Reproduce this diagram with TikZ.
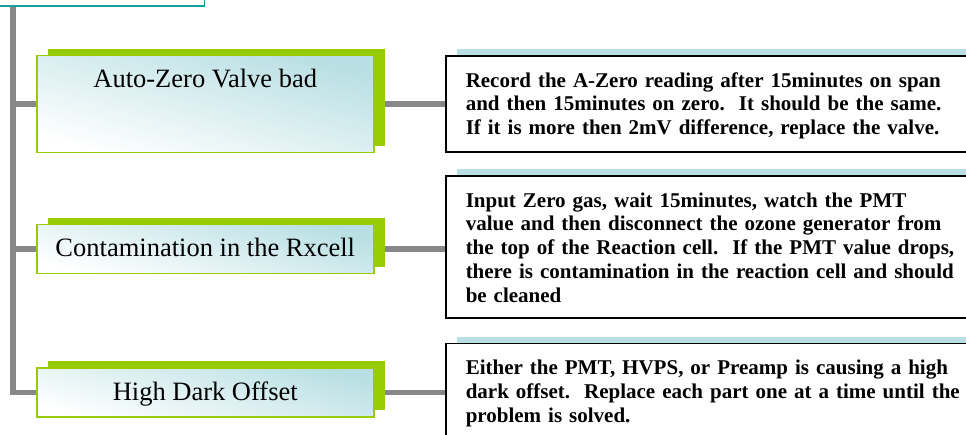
\documentclass[tikz,border=0pt]{standalone}
\usepackage{fontspec}
\setmainfont{Liberation Serif}
\usetikzlibrary{shadows,backgrounds}
\definecolor{leafgreen}{HTML}{99CC00}
\definecolor{rootteal}{HTML}{1C9C9C}
\definecolor{paleteal}{HTML}{B8DFE3}
\definecolor{linkgray}{HTML}{888888}

\begin{document}
\begin{tikzpicture}[x=1pt,y=-1pt,
  rootbox/.style={draw=rootteal,line width=1.5pt,fill=white,minimum width=260pt,minimum height=40pt,inner sep=0pt},
  fault/.style={draw=leafgreen,line width=1.5pt,top color=paleteal,bottom color=white,shading angle=-15,
    minimum width=337pt,inner xsep=0pt,inner ysep=0pt,text height=32pt,text depth=17pt,
    font=\fontsize{26.5}{30}\selectfont,
    drop shadow={fill=leafgreen,opacity=1,shadow xshift=11pt,shadow yshift=7pt}},
  remedy/.style={draw=black,line width=1.5pt,fill=white,text width=500pt,align=left,
    inner xsep=20pt,inner ysep=0pt,text height=31pt,
    font=\fontsize{21}{23.7}\bfseries\selectfont,
    drop shadow={fill=paleteal,opacity=1,shadow xshift=11pt,shadow yshift=7pt}},
  link/.style={draw=linkgray,line width=5.5pt}]
\useasboundingbox (0,0) rectangle (966,435);

\node[rootbox,anchor=south east] (root) at (205,7) {};
\coordinate (spine) at (13,7);

\node[fault,text depth=65pt,anchor=north west] (azv) at (36,55) {Auto-Zero Valve bad};
\node[fault,anchor=north west] (rx) at (36,224) {Contamination in the Rxcell};
\node[fault,text height=33pt,text depth=16pt,anchor=north west] (hdo) at (36,367) {High Dark Offset};

\node[remedy,text depth=65pt,anchor=north west] (fix1) at (445,55.5)
  {Record the A-Zero reading after 15minutes on span\\
   and then 15minutes on zero.\ \ It should be the same.\\
   If it is more then 2mV difference, replace the valve.};
\node[remedy,text depth=111pt,anchor=north west] (fix2) at (445,175.5)
  {Input Zero gas, wait 15minutes, watch the PMT\\
   value and then disconnect the ozone generator from\\
   the top of the Reaction cell.\ \ If the PMT value drops,\\
   there is contamination in the reaction cell and should\\
   be cleaned};
\node[remedy,text depth=80pt,anchor=north west] (fix3) at (445,343)
  {Either the PMT, HVPS, or Preamp is causing a high\\
   dark offset.\ \ Replace each part one at a time until the\\
   problem is solved.};

\begin{pgfonlayer}{background}
\draw[link] (spine) |- (hdo.west);
\draw[link] (spine |- azv.west) -- (azv.west);
\draw[link] (spine |- rx.west) -- (rx.west);
\draw[link] (azv.east) -- (azv.east -| fix1.west);
\draw[link] (rx.east) -- (rx.east -| fix2.west);
\draw[link] (hdo.east) -- (hdo.east -| fix3.west);
\end{pgfonlayer}
\end{tikzpicture}
\end{document}
